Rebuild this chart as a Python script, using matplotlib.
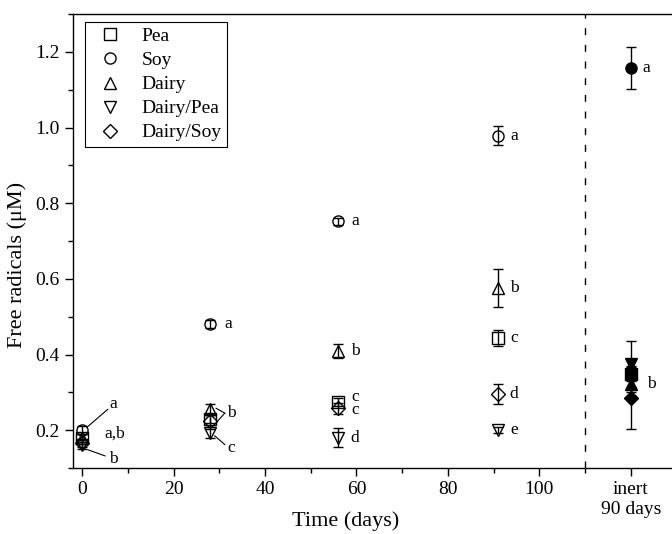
import matplotlib
matplotlib.use('Agg')
import matplotlib.pyplot as plt
from matplotlib.ticker import FixedLocator

plt.rcParams['font.family'] = ['Liberation Serif', 'STIXGeneral', 'DejaVu Serif']
plt.rcParams['mathtext.fontset'] = 'stix'

days = [0, 28, 56, 91]
inert_x = 120
names = ['Pea', 'Soy', 'Dairy', 'Dairy/Pea', 'Dairy/Soy']
markers = ['s', 'o', '^', 'v', 'D']

pea = [0.18, 0.23, 0.275, 0.444]
soy = [0.20, 0.48, 0.752, 0.978]
dairy = [0.18, 0.255, 0.41, 0.575]
dairy_pea = [0.16, 0.192, 0.18, 0.20]
dairy_soy = [0.165, 0.224, 0.258, 0.296]

pea_err = [0.01, 0.012, 0.01, 0.022]
soy_err = [0.01, 0.01, 0.01, 0.025]
dairy_err = [0.01, 0.015, 0.018, 0.05]
dairy_pea_err = [0.01, 0.012, 0.025, 0.008]
dairy_soy_err = [0.01, 0.015, 0.015, 0.027]

inert_vals = [0.349, 1.158, 0.322, 0.375, 0.285]
inert_err = [0.02, 0.055, 0.02, 0.06, 0.082]

series = [pea, soy, dairy, dairy_pea, dairy_soy]
errs = [pea_err, soy_err, dairy_err, dairy_pea_err, dairy_soy_err]

# significance letters: (text, x, y)
letters = [('a', 6.8, 0.269), ('a,b', 7.2, 0.192), ('b', 6.8, 0.123),
           ('a', 32.0, 0.48), ('b', 32.6, 0.245), ('c', 32.6, 0.152),
           ('a', 59.7, 0.752), ('b', 59.7, 0.41), ('c', 59.7, 0.289),
           ('c', 59.7, 0.253), ('d', 59.7, 0.18),
           ('a', 94.5, 0.978), ('b', 94.5, 0.575), ('c', 94.5, 0.444),
           ('d', 94.5, 0.296), ('e', 94.5, 0.20),
           ('a', 123.5, 1.158), ('b', 124.5, 0.322)]
# leader lines: (x0, y0, x1, y1)
leaders = [(5.6, 0.255, 1.0, 0.207), (5.0, 0.132, 1.3, 0.148),
           (31.2, 0.245, 29.3, 0.258), (31.2, 0.245, 29.5, 0.222),
           (31.2, 0.162, 29.0, 0.185)]

fig = plt.figure(figsize=(6.72, 5.34), dpi=100)
ax = fig.add_axes([0.1086, 0.1236, 0.898, 0.850])

handles = []
for name, m, vals, er, iv, ie in zip(names, markers, series, errs, inert_vals, inert_err):
    ms = 7 if m == 'D' else 8
    c = ax.errorbar(days, vals, yerr=er, fmt=m, mfc='none', mec='black', mew=1.0,
                    ms=ms, ecolor='black', elinewidth=1.0, capsize=3.5, capthick=1.0,
                    label=name)
    handles.append(c[0])
    ax.errorbar([inert_x], [iv], yerr=[ie], fmt=m, mfc='black', mec='black',
                ms=ms, ecolor='black', elinewidth=1.0, capsize=3.5, capthick=1.0)

for t, x, y in letters:
    ax.text(x, y, t, fontsize=12.5, ha='center', va='center')
for x0, y0, x1, y1 in leaders:
    ax.plot([x0, x1], [y0, y1], color='black', lw=0.8)

ax.axvline(110, color='black', lw=1.0, linestyle=(0, (5, 7)))

ax.set_xlim(-2, 130)
ax.set_ylim(0.1, 1.3)
ax.xaxis.set_major_locator(FixedLocator([0, 20, 40, 60, 80, 100, 120]))
ax.set_xticklabels(['0', '20', '40', '60', '80', '100', 'inert\n90 days'])
ax.xaxis.set_minor_locator(FixedLocator([10, 30, 50, 70, 90, 110]))
ax.yaxis.set_major_locator(FixedLocator([0.2, 0.4, 0.6, 0.8, 1.0, 1.2]))
ax.set_yticklabels(['0.2', '0.4', '0.6', '0.8', '1.0', '1.2'])
ax.yaxis.set_minor_locator(FixedLocator([0.1, 0.3, 0.5, 0.7, 0.9, 1.1, 1.3]))
ax.tick_params(which='major', direction='out', length=6, width=1.0, labelsize=14)
ax.tick_params(which='minor', direction='out', length=3.5, width=1.0)
for s in ax.spines.values():
    s.set_linewidth(1.0)
ax.spines['right'].set_visible(False)

ax.set_xlabel('Time (days)', fontsize=16)
ax.xaxis.set_label_coords(0.452, -0.095)
ax.set_ylabel('Free radicals (\u03bcM)', fontsize=16)
ax.yaxis.set_label_coords(-0.076, 0.447)

leg = ax.legend(handles, names, loc='upper left', bbox_to_anchor=(0.02, 0.983),
                borderaxespad=0, fontsize=14, frameon=True, fancybox=False,
                edgecolor='black', framealpha=1, handletextpad=0.6, borderpad=0.3,
                labelspacing=0.33, handlelength=2.0)
leg.get_frame().set_linewidth(0.8)

fig.savefig('out.png', dpi=100)
